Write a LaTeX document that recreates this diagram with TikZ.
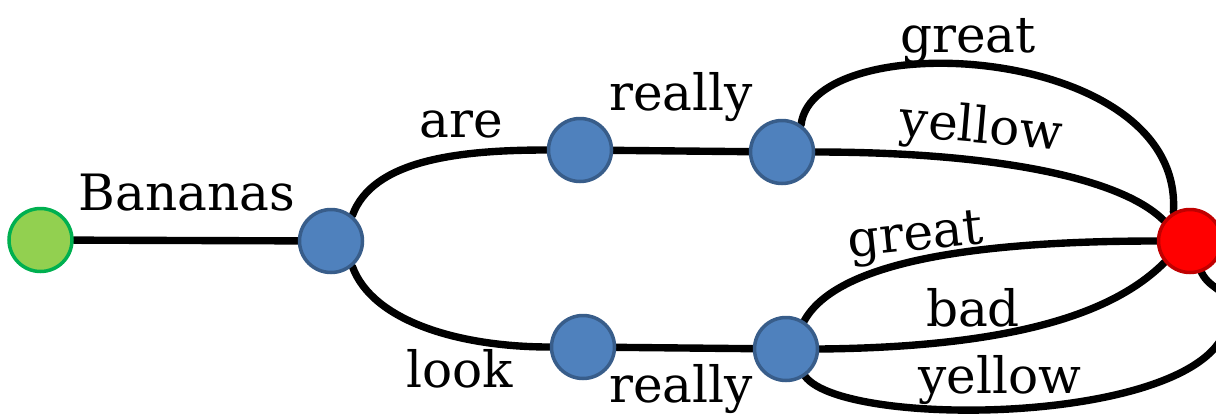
\documentclass[tikz,border=0pt]{standalone}
\usepackage{fontspec}
\setmainfont{DejaVu Serif}
\usetikzlibrary{backgrounds}
\definecolor{gfill}{HTML}{92D050}
\definecolor{gdraw}{HTML}{00B050}
\definecolor{bfill}{HTML}{4F81BD}
\definecolor{bdraw}{HTML}{385D8A}
\definecolor{rfill}{HTML}{FF0000}
\definecolor{rdraw}{HTML}{C00000}
\begin{document}
\begin{tikzpicture}[x=0.02cm,y=0.02cm,
  state/.style={circle,minimum size=1.26cm,inner sep=0pt,line width=2pt},
  bluenode/.style={state,fill=bfill,draw=bdraw},
  edge/.style={line width=4.2pt,line cap=round},
  lbl/.style={font=\fontsize{28.5}{30}\selectfont,anchor=base,inner sep=0pt}]
\path[use as bounding box,clip] (0,0) rectangle (1216,-416);
% states
\node[state,fill=gfill,draw=gdraw] (s) at (40.5,-240) {};
\node[bluenode] (b1) at (331,-241) {};
\node[bluenode] (b2) at (580,-150) {};
\node[bluenode] (b3) at (782,-152) {};
\node[bluenode] (b4) at (583,-347) {};
\node[bluenode] (b5) at (786,-349) {};
\node[state,fill=rfill,draw=rdraw] (r) at (1190,-241) {};
\coordinate (loop) at (1228,-315);
% edges
\begin{scope}[on background layer]
\draw[edge] (s) -- (b1);
\draw[edge] (b1.50) .. controls +(20,55) and +(-90,0) .. (b2.west);
\draw[edge] (b1.-50) .. controls +(20,-55) and +(-90,0) .. (b4.west);
\draw[edge] (b2) -- (b3);
\draw[edge] (b4) -- (b5);
\draw[edge] (b3.55) .. controls +(12,101) and +(11,169) .. (r.120);
\draw[edge] (b3.east) .. controls +(170,0) and +(-45,45) .. (r.142);
\draw[edge] (b5.57) .. controls +(30,55) and +(-200,0) .. (r.west);
\draw[edge] (b5.east) .. controls +(210,2) and +(-45,-45) .. (r.-140);
\draw[edge] (b5.-55) .. controls +(40,-55) and +(0,-110) .. (loop);
\draw[edge] (loop) .. controls +(0,30) and +(10,-20) .. (r.-70);
\end{scope}
% labels
\node[lbl] (lBananas) at (187,-210) {Bananas};
\node[lbl] (lare) at (461,-137) {are};
\node[lbl] (lreally1) at (681,-110) {really};
\node[lbl] (llook) at (460,-387) {look};
\node[lbl] (lreally2) at (681,-402) {really};
\node[lbl] (lgreat1) at (968,-52) {great};
\node[lbl,rotate=-5] (lyellow1) at (980,-143) {yellow};
\node[lbl,rotate=6] (lgreat2) at (917,-250) {great};
\node[lbl] (lbad) at (973,-326) {bad};
\node[lbl] (lyellow2) at (1000,-393) {yellow};
\end{tikzpicture}
\end{document}
